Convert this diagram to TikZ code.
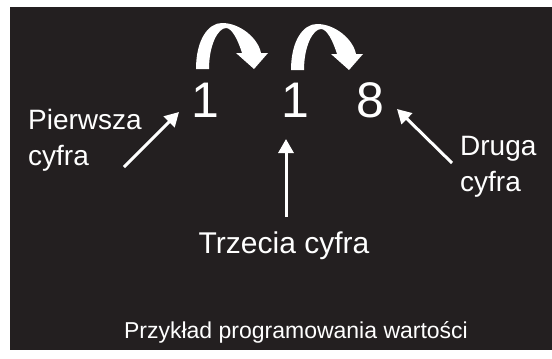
\documentclass[tikz,border=0pt]{standalone}
\usepackage{fontspec}
\setmainfont{Liberation Sans}
\usetikzlibrary{arrows.meta}
\definecolor{bg}{RGB}{35,31,32}
\tikzset{
  curl/.pic={
    \fill[white] (0,0) .. controls (0,-29) and (12,-46) .. (26,-46)
      .. controls (44,-46) and (62,-31) .. (65,-16)
      -- (72,-16) -- (58,0) -- (40,-16) -- (46,-16)
      .. controls (42,-29) and (36,-41) .. (30,-41)
      .. controls (22,-41) and (13,-24) .. (13,0) -- cycle;
  }
}
\begin{document}
\begin{tikzpicture}[x=1pt,y=-1pt,
  lbl/.style={text=white, inner sep=0pt, anchor=base west, font=\fontsize{28}{34}\selectfont},
  digit/.style={text=white, inner sep=0pt, anchor=base, font=\fontsize{50}{60}\selectfont},
  arr/.style={white, line width=3pt, -{Triangle[length=14pt,width=15pt]}}]
\useasboundingbox (0,0) rectangle (552,359);
\fill[bg] (10,7) rectangle (552,350);
\pic at (196,69) {curl};
\pic at (291,70) {curl};
\node[digit] (d1) at (205,117) {1};
\node[digit] (d2) at (295,117) {1};
\node[digit] (d3) at (370,117) {8};
\node[lbl] (p1) at (28,129) {Pierwsza};
\node[lbl] (p2) at (28,165) {cyfra};
\node[lbl] (g1) at (460,155) {Druga};
\node[lbl] (g2) at (460,191) {cyfra};
\node[text=white, inner sep=0pt, anchor=base, font=\fontsize{30}{36}\selectfont] (t) at (284,253) {Trzecia cyfra};
\node[text=white, inner sep=0pt, anchor=base, font=\fontsize{23}{28}\selectfont] (b) at (296,338) {Przykład programowania wartości};
\coordinate (a1s) at (124,167); \coordinate (a1e) at (179,112);
\coordinate (a2s) at (286,217); \coordinate (a2e) at (286,139);
\coordinate (a3s) at (452,163); \coordinate (a3e) at (397,109);
\draw[arr] (a1s) -- (a1e);
\draw[arr] (a2s) -- (a2e);
\draw[arr] (a3s) -- (a3e);
\end{tikzpicture}
\end{document}
